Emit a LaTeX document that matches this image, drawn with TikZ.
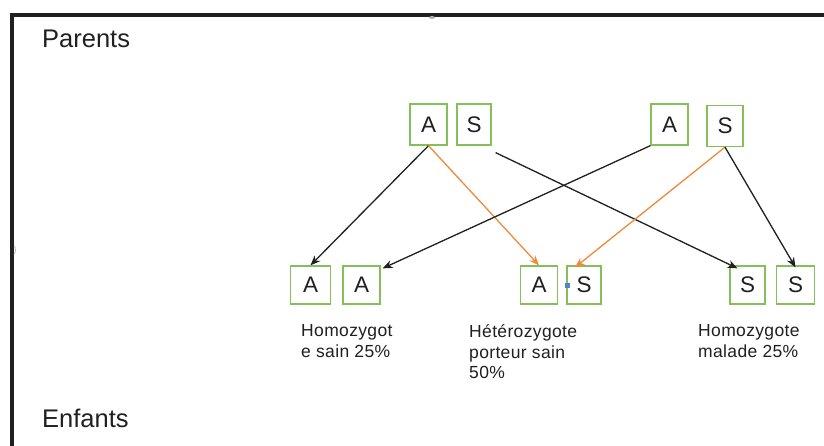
\documentclass[tikz,border=0pt]{standalone}
\usepackage{fontspec}
\setmainfont{Liberation Sans}
\usetikzlibrary{arrows.meta}
\definecolor{boxgreen}{HTML}{86BF5A}
\definecolor{arroworange}{HTML}{EE8A3C}
\definecolor{ink}{HTML}{202020}
\definecolor{handle}{HTML}{4A86C8}
\tikzset{
  allele/.style={draw=boxgreen, line width=1.3pt, minimum width=37pt, minimum height=41pt,
    inner sep=0pt, font=\fontsize{22.5}{22.5}\selectfont, text=ink},
  label/.style={anchor=north west, align=left, inner sep=0pt, text=ink,
    font=\fontsize{17.5}{20.5}\selectfont\addfontfeatures{LetterSpace=2}},
  title/.style={anchor=west, inner sep=0pt, text=ink, font=\fontsize{25.5}{25.5}\selectfont},
  link/.style={draw=ink, line width=1.3pt, -{Stealth[length=10pt,width=8pt]}},
  cross/.style={draw=arroworange, line width=1.3pt, -{Stealth[length=10pt,width=8pt]}}
}
\begin{document}
\begin{tikzpicture}[x=1pt,y=-1pt]
\useasboundingbox (0,0) rectangle (824,445);
\clip (0,0) rectangle (824,445);
\fill[white] (0,0) rectangle (824,445);
% outer frame (continues past the right and bottom edges)
\draw[line width=4pt, ink] (11.5,460) -- (11.5,14.5) -- (840,14.5);
\fill[gray!60] (432,17.5) ellipse (3pt and 1.5pt);
\draw[gray!50, line width=0.8pt] (14,246) arc (90:-90:1.5pt and 4pt);

% section titles
\node[title] (parents) at (42,39) {Parents};
\node[title] (enfants) at (42,418) {Enfants};

% parents
\node[allele] (p1a) at (428.5,124.5) {A};
\node[allele, minimum width=34pt] (p1s) at (474,124.5) {S};
\node[allele] (p2a) at (669.5,124.5) {A};
\node[allele, minimum width=36pt] (p2s) at (725,126) {S};

% children
\node[allele, minimum height=38pt, minimum width=40pt] (c1) at (310.5,285) {A};
\node[allele, minimum height=38pt] (c2) at (361.5,285) {A};
\node[allele, minimum height=38pt] (c3) at (539,285) {A};
\node[allele, minimum height=38pt, minimum width=34pt] (c4) at (584,285) {S};
\node[allele, minimum height=38pt, minimum width=35pt] (c5) at (747.5,285) {S};
\node[allele, minimum height=38pt, minimum width=38pt] (c6) at (795.5,285) {S};
\fill[handle] ([xshift=1.5pt]c4.west) ++(-2.5,-2.5) rectangle ++(5,5);

% transmitted alleles
\draw[link] (p1a.south) -- (c1.north);
\draw[cross] (p1a.south) -- (c3.north);
\draw[link] ([xshift=4pt,yshift=-7pt]p1s.south east) -- ([xshift=-10pt,yshift=-3pt]c5.north);
\draw[link] (p2a.south west) -- ([xshift=2pt,yshift=-3pt]c2.north east);
\draw[cross] (p2s.south) -- ([xshift=-9pt,yshift=-2pt]c4.north);
\draw[link] (p2s.south) -- ([yshift=-2pt]c6.north);

% genotype labels
\node[label] (l1) at (301,324.5) {Homozygot\\e sain 25\%};
\node[label] (l2) at (469,324.5) {Hétérozygote\\porteur sain\\50\%};
\node[label] (l3) at (698,324.5) {Homozygote\\malade 25\%};
\end{tikzpicture}
\end{document}
